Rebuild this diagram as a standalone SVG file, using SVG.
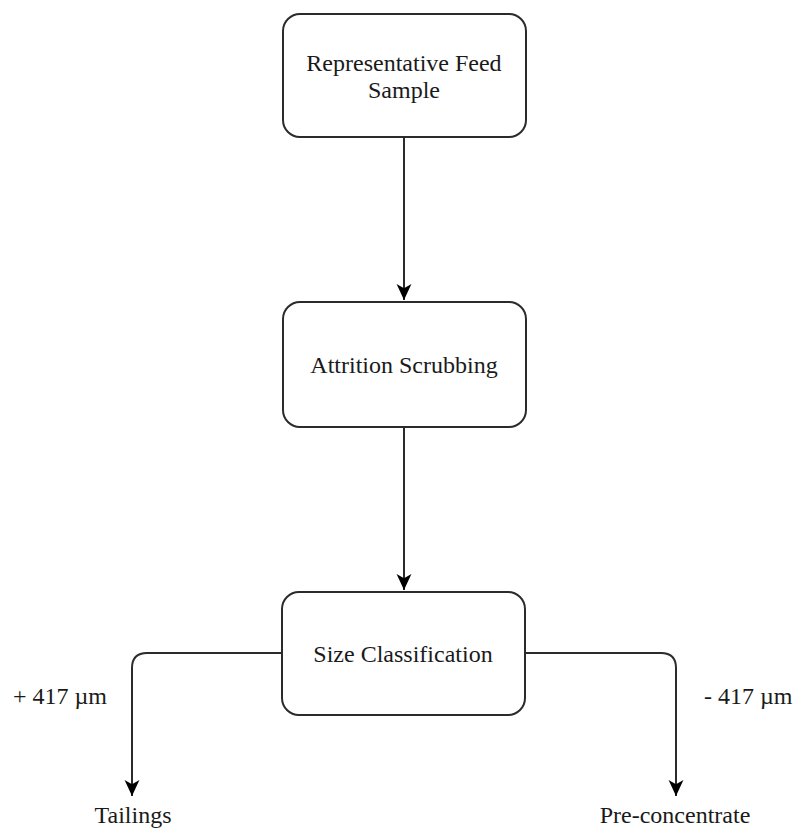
<svg xmlns="http://www.w3.org/2000/svg" width="795" height="830" viewBox="0 0 795 830">
  <style>
    .box { fill: #ffffff; stroke: #2b2b2b; stroke-width: 2; }
    .edge { fill: none; stroke: #2b2b2b; stroke-width: 2; }
    .label { font-family: "Liberation Serif", "Times New Roman", serif; font-size: 24px; fill: #1a1a1a; }
  </style>
  <defs>
    <marker id="arrow" viewBox="0 0 16 16" refX="15" refY="8" markerWidth="17" markerHeight="17" markerUnits="userSpaceOnUse" orient="auto">
      <path d="M0,1 L15,8 L0,15 L4,8 Z" fill="#000000"/>
    </marker>
  </defs>

  <rect width="795" height="830" fill="#ffffff"/>

  <g id="connectors">
    <path class="edge" d="M404,137 L404,300" marker-end="url(#arrow)"/>
    <path class="edge" d="M404,427 L404,590" marker-end="url(#arrow)"/>
    <path class="edge" d="M282,653 L147,653 Q132,653 132,668 L132,796" marker-end="url(#arrow)"/>
    <path class="edge" d="M525,653 L661,653 Q676,653 676,668 L676,796" marker-end="url(#arrow)"/>
  </g>

  <g id="feed">
    <rect class="box" x="283" y="14" width="243" height="123" rx="17" ry="17"/>
    <text class="label" x="404" y="71" text-anchor="middle">Representative Feed</text>
    <text class="label" x="404" y="98" text-anchor="middle">Sample</text>
  </g>

  <g id="scrubbing">
    <rect class="box" x="283" y="302" width="243" height="125" rx="17" ry="17"/>
    <text class="label" x="404" y="373" text-anchor="middle">Attrition Scrubbing</text>
  </g>

  <g id="classification">
    <rect class="box" x="282" y="592" width="243" height="123" rx="17" ry="17"/>
    <text class="label" x="403" y="662" text-anchor="middle">Size Classification</text>
  </g>

  <g id="coarse-label">
    <text class="label" x="13" y="704">+ 417 µm</text>
  </g>
  <g id="fine-label">
    <text class="label" x="704" y="704">- 417 µm</text>
  </g>

  <g id="tailings">
    <text class="label" x="133" y="823" text-anchor="middle">Tailings</text>
  </g>
  <g id="preconcentrate">
    <text class="label" x="675" y="823" text-anchor="middle">Pre-concentrate</text>
  </g>
</svg>
